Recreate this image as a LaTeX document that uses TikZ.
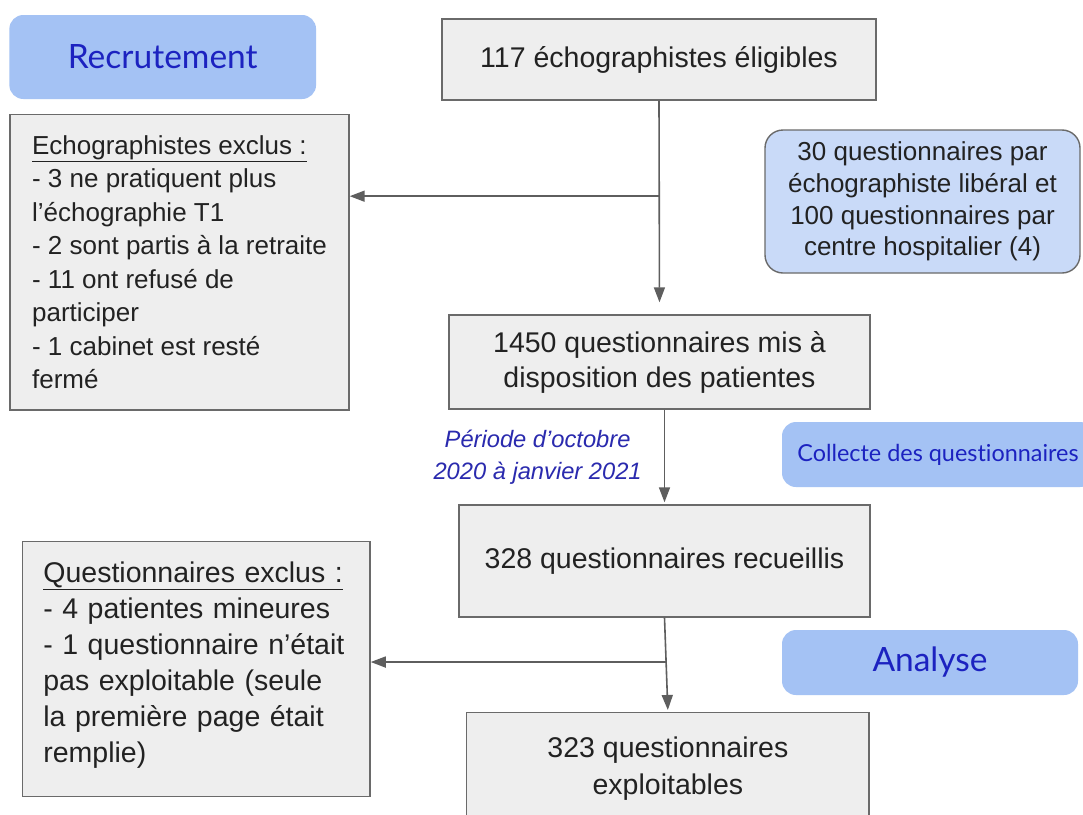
\documentclass[tikz,border=0pt]{standalone}
\usepackage{fontspec}
\setmainfont{Liberation Sans}
\newfontfamily\latofont[Ligatures=NoCommon]{Lato}
\usepackage{xcolor}
\usepackage{tikz}
\usetikzlibrary{calc}
\usetikzlibrary{arrows.meta}

\definecolor{boxgray}{HTML}{EEEEEE}
\definecolor{edgegray}{HTML}{6A6A6A}
\definecolor{linegray}{HTML}{5E5E5E}
\definecolor{inkgray}{HTML}{222222}
\definecolor{phaseblue}{HTML}{A4C2F4}
\definecolor{noteblue}{HTML}{C9DAF8}
\definecolor{titleblue}{HTML}{1C22C0}
\definecolor{periodblue}{HTML}{2A2AAE}

\begin{document}
\begin{tikzpicture}[x=1pt,y=-1pt]
    \tikzstyle{box}=[draw=edgegray,fill=boxgray,line width=1.4pt,inner sep=0pt,text=inkgray,font=\fontsize{28.5}{35}\selectfont]
    \tikzstyle{listbox}=[style=box,align=left]
    \tikzstyle{phase}=[fill=phaseblue,rounded corners=14pt,inner sep=0pt,text=titleblue]
    \tikzstyle{note}=[draw=edgegray,fill=noteblue,rounded corners=18pt,line width=1.4pt,inner sep=0pt,align=center,text=inkgray,font=\fontsize{26}{31.7}\selectfont]
    \tikzstyle{flow}=[-{Triangle[length=15pt,width=11pt]},line width=1.6pt,color=linegray]
    \tikzstyle{period text}=[text=periodblue,align=center,inner sep=0pt,left=22pt,font=\fontsize{23.7}{32}\selectfont\itshape]

    \clip (0,0) rectangle (1083,814);
    \fill[white] (0,0) rectangle (1083,814);

    % Recrutement
    \node[style=phase,minimum width=306.7pt,minimum height=84pt,font=\latofont\fontsize{33.5}{40}\selectfont] (recruit) at (162.7,57) {Recrutement};
    \node[style=box,minimum width=434pt,minimum height=81pt] (eligible) at (659,59.5) {117 échographistes éligibles};
    \node[style=listbox,minimum width=339pt,minimum height=295.6pt,font=\fontsize{26}{33.5}\selectfont] (excl1) at (179.5,262) {\underline{Echographistes exclus :}\\- 3 ne pratiquent plus\\l’échographie T1\\- 2 sont partis à la retraite\\- 11 ont refusé de\\participer\\- 1 cabinet est resté\\fermé};
    \node[style=note,minimum width=315pt,minimum height=143pt] (quota) at (922.5,201.5) {30 questionnaires par\\échographiste libéral et\\100 questionnaires par\\centre hospitalier (4)};
    \node[style=box,minimum width=421pt,minimum height=94pt,align=center] (mad) at (659.5,362) {1450 questionnaires mis à\\disposition des patientes};

    % Collecte
    \node[style=phase,minimum width=312pt,minimum height=65pt,font=\latofont\fontsize{23.4}{28}\selectfont] (collect) at (938,454.5) {Collecte des questionnaires};
    \node[style=box,minimum width=411pt,minimum height=112pt] (collected) at (664.5,561) {328 questionnaires recueillis};

    % Analyse
    \node[style=phase,minimum width=296pt,minimum height=65pt,font=\latofont\fontsize{33.5}{40}\selectfont] (analysis) at (930,662.5) {Analyse};
    \node[style=listbox,minimum width=347.3pt,minimum height=255pt,text width=306pt,font=\fontsize{28.5}{36}\selectfont] (excl2) at (196.4,669.2) {\underline{Questionnaires exclus :}\\- 4 patientes mineures\\- 1 questionnaire n’était\\pas exploitable (seule\\la première page était\\remplie)\\[-22pt]\mbox{}};
    \node[style=box,minimum width=402.3pt,minimum height=111.2pt,align=center,font=\fontsize{28.5}{36.7}\selectfont] (usable) at (667.9,768.3) {323 questionnaires\\exploitables};

    % Arrows
    \coordinate (split1) at ($(eligible.south)!0.447!(mad.north)$);
    \draw[style=flow,shorten >=12pt] (eligible.south) -- (mad.north);
    \draw[style=flow] (split1) -- (split1 -| excl1.east);

    \draw[style=flow,shorten >=2pt] (mad.south -| collected.north) -- node[style=period text,midway] {Période d’octobre\\2020 à janvier 2021} (collected.north);

    \coordinate (split2) at ($(collected.south)!0.47!(usable.north)$);
    \draw[style=flow,shorten >=2pt] (collected.south) -- (usable.north);
    \draw[style=flow] (split2) -- (split2 -| excl2.east);

\end{tikzpicture}
\end{document}
